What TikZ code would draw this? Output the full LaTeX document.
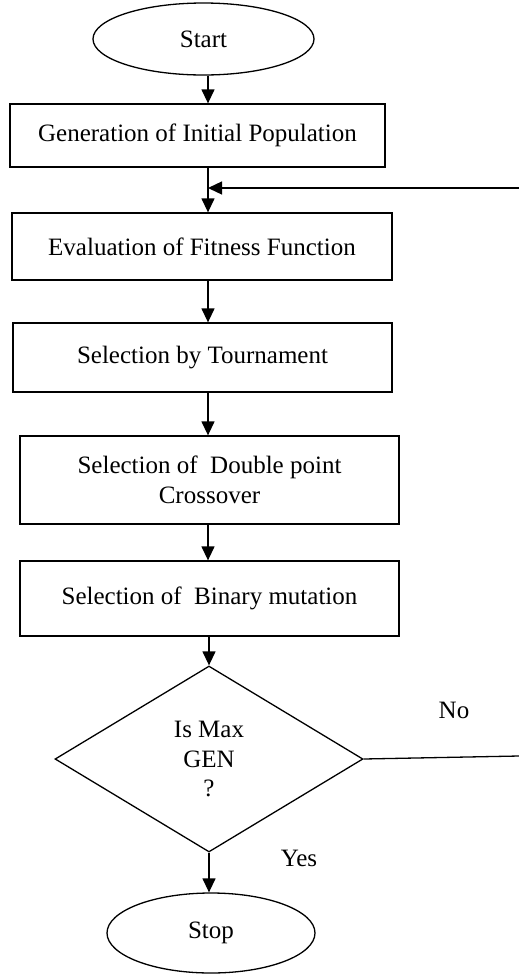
\documentclass[tikz,border=0pt]{standalone}
\usepackage{fontspec}
\setmainfont{Liberation Serif}
\usetikzlibrary{shapes.geometric,arrows.meta}
\begin{document}
\begin{tikzpicture}[x=1pt,y=-1pt,
  every node/.style={font=\fontsize{25}{29.5}\selectfont},
  procbox/.style={draw,line width=1.3pt,rectangle,inner sep=0pt,align=center},
  term/.style={draw,line width=1.3pt,ellipse,inner sep=0pt},
  decide/.style={draw,line width=1.3pt,diamond,inner sep=0pt,align=center},
  arr/.style={line width=1.3pt,-{Triangle[length=14pt,width=13pt]}},
  plain/.style={line width=1.3pt},
  lbl/.style={inner sep=0pt}]
\useasboundingbox (0,0) rectangle (519,975);
\coordinate (axis) at (208,0);
\node[term,minimum width=221pt,minimum height=72pt] (start) at (203.5,39) {Start};
\node[procbox,minimum width=375pt,minimum height=63pt] (gen) at (197.5,135.5) {Generation of Initial Population};
\node[procbox,minimum width=380pt,minimum height=67pt] (eval) at (202,246.5) {Evaluation of Fitness Function};
\node[procbox,minimum width=379pt,minimum height=69pt] (tour) at (202.5,357.5) {Selection by Tournament};
\node[procbox,minimum width=379pt,minimum height=88pt] (cross) at (209.5,480) {Selection of~ Double point\\Crossover};
\node[procbox,minimum width=379pt,minimum height=75pt] (mut) at (209.5,598.5) {Selection of~ Binary mutation};
\node[decide,minimum width=308pt,minimum height=186pt] (dia) at (209,759) {Is Max\\GEN\\?};
\node[term,minimum width=208pt,minimum height=80pt] (stop) at (211,933) {Stop};
\node[lbl] (no) at (454,710) {No};
\node[lbl] (yes) at (299,858) {Yes};
\coordinate (fbin) at (519,188);
\coordinate (noend) at (519,756);
\draw[arr] (start.south -| axis) -- (gen.north -| axis);
\draw[arr] (gen.south -| axis) -- (eval.north -| axis);
\draw[arr] (fbin) -- (fbin -| axis);
\draw[arr] (eval.south -| axis) -- (tour.north -| axis);
\draw[arr] (tour.south -| axis) -- (cross.north -| axis);
\draw[arr] (cross.south -| axis) -- (mut.north -| axis);
\draw[arr] (mut.south -| dia.north) -- (dia.north);
\draw[arr] (dia.south) -- (stop.north -| dia.south);
\draw[plain] (dia.east) -- (noend);
\end{tikzpicture}
\end{document}
